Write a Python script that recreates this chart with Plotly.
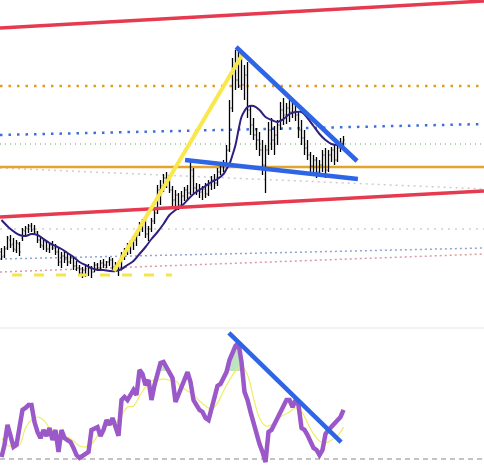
import numpy as np
import plotly.graph_objects as go

# --- datos de velas (indice de barra) ---
highs = [152, 154, 164, 165, 162, 160, 158, 172, 174, 176,
         177, 175, 169, 164, 162, 158, 157, 159, 156, 152,
         148, 149, 146, 145, 142, 139, 135, 133, 134, 136,
         134, 138, 137, 140, 141, 139, 143, 142, 138, 134,
         148, 152, 157, 160, 164, 168, 178, 181, 182, 174,
         182, 190, 215, 220, 226, 228, 225, 214, 210, 207,
         209, 213, 215, 241, 232, 217, 216, 214, 217, 220,
         224, 226, 232, 238, 240, 255, 300, 342, 350, 348,
         347, 335, 338, 295, 282, 272, 268, 260, 255, 278,
         282, 274, 280, 298, 302, 297, 300, 300, 298, 288,
         280, 270, 260, 248, 245, 243, 240, 250, 252, 250,
         253, 255, 258, 262, 264]
lows = [140, 142, 150, 152, 148, 147, 144, 159, 164, 167,
        168, 166, 157, 152, 150, 148, 147, 150, 145, 134,
        132, 137, 134, 136, 130, 129, 124, 122, 123, 124,
        122, 128, 130, 131, 132, 132, 134, 130, 128, 124,
        130, 140, 145, 146, 150, 154, 164, 168, 162, 159,
        168, 176, 186, 195, 208, 212, 207, 193, 194, 190,
        192, 199, 200, 205, 207, 205, 202, 200, 202, 204,
        210, 211, 214, 225, 228, 234, 248, 288, 310, 312,
        310, 300, 282, 265, 260, 250, 244, 225, 207, 245,
        250, 245, 255, 270, 275, 276, 278, 282, 279, 262,
        255, 245, 240, 228, 225, 222, 224, 228, 222, 228,
        238, 235, 238, 248, 250]
opens = [148, 144, 152, 160, 156, 150, 156, 162, 169, 171,
         174, 171, 168, 160, 154, 158, 151, 155, 152, 148,
         138, 144, 141, 138, 142, 134, 132, 127, 130, 125,
         132, 128, 135, 132, 137, 135, 138, 140, 133, 132,
         130, 145, 149, 154, 157, 160, 165, 175, 178, 166,
         171, 179, 187, 210, 214, 222, 218, 210, 200, 205,
         195, 204, 210, 207, 230, 212, 210, 208, 211, 206,
         215, 220, 217, 228, 234, 237, 250, 292, 330, 320,
         340, 315, 325, 290, 275, 265, 260, 250, 235, 250,
         270, 260, 265, 275, 290, 285, 292, 288, 296, 285,
         270, 262, 252, 245, 234, 240, 228, 235, 245, 230,
         245, 250, 240, 252, 258]
closes = [143, 151, 162, 155, 151, 157, 148, 170, 172, 174,
          170, 168, 160, 155, 159, 151, 155, 152, 148, 138,
          144, 141, 138, 142, 134, 132, 127, 130, 125, 132,
          128, 135, 132, 137, 135, 138, 140, 133, 132, 130,
          145, 149, 154, 157, 160, 165, 175, 178, 166, 171,
          179, 187, 210, 214, 222, 218, 210, 200, 205, 195,
          204, 210, 207, 230, 212, 210, 208, 211, 206, 215,
          220, 217, 228, 234, 237, 250, 292, 330, 320, 340,
          315, 325, 290, 275, 265, 260, 250, 235, 250, 270,
          260, 265, 275, 290, 285, 292, 288, 296, 285, 270,
          262, 252, 245, 234, 240, 228, 235, 245, 230, 245,
          250, 240, 252, 258, 260]
bars = list(range(len(closes)))

# media movil
ma_idx = [0, 3, 6, 8, 10, 12, 14, 16, 18, 20, 22, 24, 26, 28, 30, 32, 34, 36, 38,
          40, 42, 44, 46, 48, 50, 52, 54, 56, 58, 60, 62, 64, 66, 68, 70, 72, 74,
          75, 76, 77, 78, 79, 80, 81, 82, 84, 86, 88, 90, 92, 94, 96, 98, 100,
          102, 104, 106, 108, 110, 112, 114]
ma_val = [180, 171, 165, 164, 166, 165, 161, 157, 154, 151, 147, 143, 138, 135,
          132, 130, 130, 129, 129, 131, 135, 139, 146, 153, 161, 168, 176, 185,
          190, 194, 200, 206, 210, 214, 218, 221, 226, 231, 236, 245, 255, 270,
          283, 289, 293, 294, 290, 283, 280, 278, 281, 286, 288, 288, 282, 274,
          266, 260, 256, 255, 256]

# RSI
rsi = [30.9, 36.4, 45.5, 40.0, 35.5, 36.4, 44.1, 52.3, 53.2, 54.5,
       54.5, 46.8, 42.3, 39.5, 43.2, 40.5, 44.1, 38.6, 43.2, 33.2,
       43.2, 39.5, 38.6, 37.7, 35.0, 31.8, 30.5, 31.4, 32.7, 33.2,
       43.2, 44.1, 44.5, 40.5, 43.2, 47.7, 45.5, 48.6, 45.0, 40.5,
       56.8, 58.2, 56.8, 59.1, 61.4, 59.1, 70.5, 68.6, 63.6, 65.9,
       56.8, 63.6, 68.2, 73.6, 74.1, 71.4, 69.5, 66.8, 55.9, 59.1,
       62.3, 66.8, 69.5, 65.0, 56.8, 54.5, 52.3, 51.4, 48.6, 47.7,
       53.2, 59.1, 63.2, 64.1, 66.8, 69.5, 75.0, 77.7, 81.4, 82.7,
       74.1, 60.5, 56.8, 51.4, 45.9, 42.3, 36.8, 33.2, 28.6, 42.3,
       43.2, 45.9, 48.6, 52.3, 54.5, 56.8, 56.8, 53.6, 56.8, 54.5,
       44.1, 43.2, 40.9, 37.7, 35.0, 34.1, 31.8, 34.1, 41.4, 43.2,
       44.5, 45.9, 47.7, 49.1, 52.3]
rsi_ma_idx = list(range(0, 115, 2))
rsi_ma = [39.5, 36.4, 35.5, 36.4, 44.1, 47.7, 49.1, 47.7, 44.1, 41.4,
          40.0, 40.0, 38.2, 35.9, 35.5, 36.8, 40.5, 44.1, 45.5, 46.4,
          50.0, 53.6, 54.1, 58.6, 62.7, 65.5, 65.9, 66.4, 65.9, 65.5,
          62.7, 60.9, 59.1, 56.4, 54.1, 52.7, 55.5, 60.9, 65.9, 70.0,
          72.3, 68.2, 57.7, 48.6, 45.0, 45.5, 48.2, 50.0, 51.4, 53.2,
          51.4, 46.4, 41.4, 38.2, 37.3, 38.6, 40.5, 44.5]
rsi_alto, rsi_bajo = 70, 30

# lineas dibujadas (x0, y0, x1, y1) en indice de barra / precio
X0, X1 = -0.5, 160.83
canal_sup = (X0, 372, X1, 399)
canal_inf = (X0, 183, X1, 209)
impulso = (37.5, 129, 80.2, 345)
bandera_sup = (78.2, 353, 118.5, 239)
bandera_inf = (61.2, 240, 118.8, 221)
soporte_dash = (3.5, 125, 56.8, 125)
nivel_oro = (X0, 233, X1, 233)
nivel_naranja = (X0, 314, X1, 314)
diag_azul = (X0, 265, X1, 276)
nivel_verde = (X0, 256, X1, 256)
diag_gris = (X0, 232, X1, 211)
nivel_gris = (X0, 171, X1, 171)
diag_azul2 = (X0, 141, X1, 152)
diag_rosa = (X0, 128, X1, 146)
rsi_trend = (75.8, 87.3, 113.2, 37.7)

fig = go.Figure()

fig.add_trace(go.Ohlc(x=bars, open=opens, high=highs, low=lows, close=closes,
                      increasing_line_color='black', decreasing_line_color='black',
                      line_width=1.3, tickwidth=0.3, xaxis='x', yaxis='y'))
fig.add_trace(go.Scatter(x=ma_idx, y=ma_val, mode='lines', line_shape='spline',
                         line=dict(color='#2E1F80', width=2), xaxis='x', yaxis='y'))

# relleno sobrecompra
rsi_arr = np.array(rsi)
fig.add_trace(go.Scatter(x=bars, y=[rsi_alto] * len(bars), mode='lines',
                         line=dict(width=0), xaxis='x2', yaxis='y2'))
fig.add_trace(go.Scatter(x=bars, y=np.maximum(rsi_arr, rsi_alto), mode='lines',
                         line=dict(width=0), fill='tonexty',
                         fillcolor='rgba(110,190,120,0.45)', xaxis='x2', yaxis='y2'))
fig.add_trace(go.Scatter(x=rsi_ma_idx, y=rsi_ma, mode='lines', line_shape='spline',
                         line=dict(color='#EDEE62', width=1.2), xaxis='x2', yaxis='y2'))
fig.add_trace(go.Scatter(x=bars, y=rsi, mode='lines',
                         line=dict(color='#9A58C9', width=4.5), xaxis='x2', yaxis='y2'))


def linea(seg, color, width, dash='solid', layer='above', ref='y'):
    x0, y0, x1, y1 = seg
    xr = 'x' if ref == 'y' else 'x2'
    fig.add_shape(type='line', x0=x0, y0=y0, x1=x1, y1=y1, xref=xr, yref=ref,
                  line=dict(color=color, width=width, dash=dash), layer=layer)


linea(diag_rosa, '#D99AA6', 1.5, '2px,3px', 'below')
linea(diag_azul2, '#8FA3D0', 1.5, '2px,3px', 'below')
linea(nivel_gris, '#CFCFCF', 1.5, '2px,5px', 'below')
linea(diag_gris, '#CCCCCC', 1.5, '2px,4px', 'below')
linea(nivel_verde, '#5AA85A', 1, '1px,4px', 'below')
linea(diag_azul, '#3C6FD8', 2.5, '2.5px,6px', 'below')
linea(nivel_naranja, '#E39B22', 2.5, '2.5px,6px', 'below')
linea(nivel_oro, '#E2A52A', 2.5, 'solid', 'below')
linea(soporte_dash, '#F7E34A', 3, '10px,12px')
linea(canal_sup, '#E63A50', 3.5)
linea(canal_inf, '#E63A50', 3.5)
linea(impulso, '#F9E84A', 4)
linea(bandera_sup, '#2E64E6', 4.5)
linea(bandera_inf, '#2E64E6', 4.5)
linea((X0, rsi_bajo, X1, rsi_bajo), '#888888', 1, '5px,4px', 'below', 'y2')
linea(rsi_trend, '#2E64E6', 4.5, 'solid', 'above', 'y2')

# separador de paneles
fig.add_shape(type='line', xref='paper', yref='paper', x0=0, x1=1,
              y0=1 - 328 / 467, y1=1 - 328 / 467,
              line=dict(color='#E6E6E6', width=1))

fig.update_layout(
    width=484, height=467, margin=dict(l=0, r=0, t=0, b=0),
    paper_bgcolor='white', plot_bgcolor='white', showlegend=False,
    xaxis=dict(range=[X0, X1], visible=False, rangeslider=dict(visible=False)),
    xaxis2=dict(range=[X0, X1], visible=False, anchor='y2', matches='x'),
    yaxis=dict(range=[73, 400], domain=[1 - 327 / 467, 1], visible=False),
    yaxis2=dict(range=[26.36, 88.64], domain=[0, 137 / 467], visible=False),
)

# quitar el margen del body para que la figura ocupe toda la ventana
fig.write_html("out.html", config={'displayModeBar': False},
               post_script="document.body.style.margin='0';document.body.style.overflow='hidden';")
